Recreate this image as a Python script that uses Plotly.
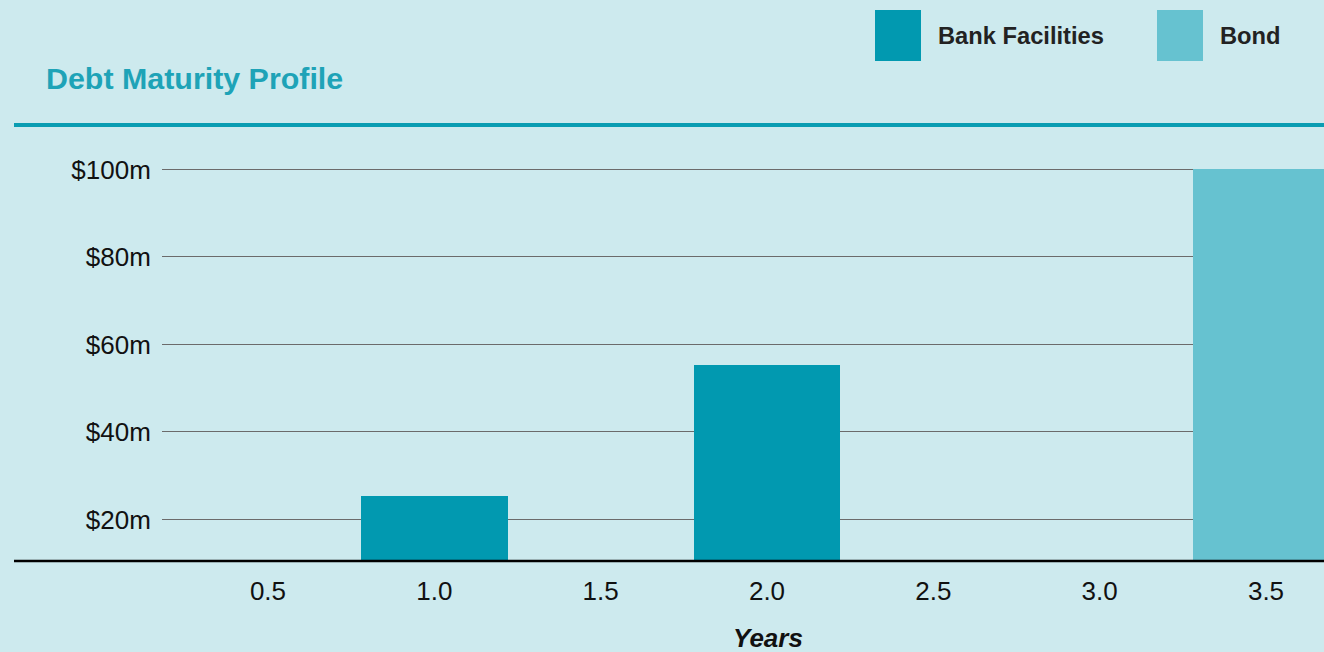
import plotly.graph_objects as go

# ---- data ----
years = [0.5, 1.0, 1.5, 2.0, 2.5, 3.0, 3.5]
year_labels = ["0.5", "1.0", "1.5", "2.0", "2.5", "3.0", "3.5"]
bank_facilities = [None, 25.4, None, 55.3, None, None, None]
bond = [None, None, None, None, None, None, 100]
y_ticks = [20, 40, 60, 80, 100]
y_tick_labels = ["$20m", "$40m", "$60m", "$80m", "$100m"]
series_names = ["Bank Facilities", "Bond"]
title_text = "Debt Maturity Profile"
x_title = "Years"

# ---- style ----
W, H = 1324, 652
BG = "#cdeaee"
BANK = "#0199b0"
BOND = "#66c2d0"
TEAL = "#0a9db2"
FONT = "Liberation Sans, Arial, sans-serif"

L, R, T, B = 162, 0, 125, 91
pw, ph = W - L - R, H - T - B


def px_x(p):
    return (p - L) / pw


def px_y(p):
    return (H - B - p) / ph


fig = go.Figure()
fig.add_trace(go.Bar(x=years, y=bank_facilities, name=series_names[0],
                     marker=dict(color=BANK, line=dict(width=0)), width=0.44))
fig.add_trace(go.Bar(x=years, y=bond, name=series_names[1],
                     marker=dict(color=BOND, line=dict(width=0)), width=0.44))

shapes = [
    # thick teal rule at top of plot
    dict(type="line", xref="paper", yref="paper", x0=px_x(14), x1=1.0, y0=1, y1=1,
         line=dict(color=TEAL, width=4), layer="above"),
    # baseline
    dict(type="line", xref="paper", yref="paper", x0=px_x(14), x1=1.0, y0=0, y1=0,
         line=dict(color="#000000", width=2.5), layer="above"),
    # legend swatches
    dict(type="rect", xref="paper", yref="paper", x0=px_x(875), x1=px_x(921),
         y0=px_y(61), y1=px_y(10), fillcolor=BANK, line=dict(width=0)),
    dict(type="rect", xref="paper", yref="paper", x0=px_x(1157), x1=px_x(1203),
         y0=px_y(61), y1=px_y(10), fillcolor=BOND, line=dict(width=0)),
]

annotations = [
    dict(text=title_text, xref="paper", yref="paper", x=px_x(44), y=px_y(78),
         xanchor="left", yanchor="middle", showarrow=False,
         font=dict(family=FONT, size=30.4, color="#1ea3b7", weight="bold")),
    dict(text=series_names[0], xref="paper", yref="paper", x=px_x(936), y=px_y(36),
         xanchor="left", yanchor="middle", showarrow=False,
         font=dict(family=FONT, size=23.7, color="#222222", weight="bold")),
    dict(text=series_names[1], xref="paper", yref="paper", x=px_x(1218), y=px_y(36),
         xanchor="left", yanchor="middle", showarrow=False,
         font=dict(family=FONT, size=23.7, color="#222222", weight="bold")),
    dict(text="<b><i>" + x_title + "</i></b>", xref="paper", yref="paper",
         x=px_x(768), y=px_y(638), xanchor="center", yanchor="middle", showarrow=False,
         font=dict(family=FONT, size=26, color="#111111")),
]

fig.update_layout(
    width=W, height=H,
    margin=dict(l=L, r=R, t=T, b=B, pad=0),
    paper_bgcolor=BG, plot_bgcolor=BG,
    barmode="overlay", bargap=0,
    showlegend=False,
    shapes=shapes, annotations=annotations,
    font=dict(family=FONT, size=26, color="#111111"),
)
fig.update_xaxes(range=[0.1814, 3.6743], tickvals=years, ticktext=year_labels,
                 showgrid=False, zeroline=False, showline=False,
                 ticks="outside", ticklen=7, tickcolor="rgba(0,0,0,0)",
                 tickfont=dict(family=FONT, size=26, color="#111111"))
fig.update_yaxes(range=[10.5, 110.16], tickvals=y_ticks, ticktext=y_tick_labels,
                 showgrid=True, gridcolor="#6b6b6b", gridwidth=1,
                 zeroline=False, showline=False,
                 ticks="outside", ticklen=5, tickcolor="rgba(0,0,0,0)",
                 tickfont=dict(family=FONT, size=26, color="#111111"))

fig.write_html("out.html")
